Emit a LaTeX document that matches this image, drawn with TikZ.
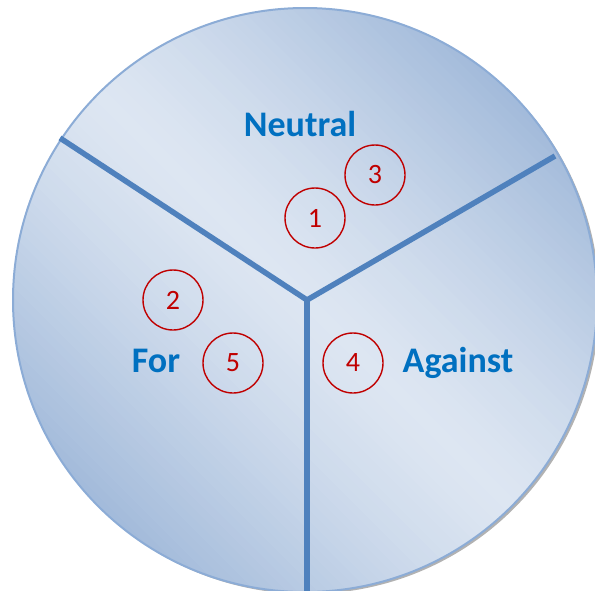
\documentclass[tikz,border=0pt]{standalone}
\usepackage{fontspec}
\setmainfont{Carlito}
\definecolor{discLight}{RGB}{221,230,242}
\definecolor{discDark}{RGB}{162,186,218}
\definecolor{discEdge}{RGB}{140,172,214}
\definecolor{divBlue}{RGB}{79,129,189}
\definecolor{labBlue}{RGB}{0,112,192}
\definecolor{numRed}{RGB}{192,0,0}
\tikzset{
  divider/.style={draw=divBlue, line width=5.5pt, line join=miter},
  numcirc/.style={circle, draw=numRed, line width=1.4pt, minimum size=60pt, inner sep=0pt,
    text=numRed, font=\fontsize{28}{30}\selectfont},
  lab/.style={text=labBlue, font=\fontsize{36}{40}\selectfont\bfseries, inner sep=0pt, anchor=base}
}
\begin{document}
\begin{tikzpicture}[x=1pt,y=-1pt]
\useasboundingbox (0,0) rectangle (595,590);
\fill[gray!60] (307.5,302) circle (292);
\begin{scope}
  \clip (305,300) circle (292);
  \begin{scope}[rotate around={45:(305,300)}]
    \foreach \i in {0,...,79} {
      \pgfmathsetmacro{\xa}{13+\i*7.3}
      \pgfmathsetmacro{\xb}{\xa+8.1}
      \pgfmathtruncatemacro{\mixp}{100*(abs(\i+0.5-40)/40)^1.3}
      \fill[discDark!\mixp!discLight] (\xa,0) rectangle (\xb,600);
    }
  \end{scope}
\end{scope}
\draw[discEdge, line width=2pt] (305,300) circle (292);
\coordinate (c) at (307,300);
\coordinate (l) at (60,138);
\coordinate (r) at (555,156);
\coordinate (b) at (307,592);
\draw[divider] (l) -- (c) -- (r);
\draw[divider] (c) -- (b);
\node[lab] (neutral) at (300,136) {Neutral};
\node[lab] (for) at (156,372) {For};
\node[lab] (against) at (458,372) {Against};
\node[numcirc] (n1) at (315,218) {1};
\node[numcirc] (n3) at (375,175) {3};
\node[numcirc] (n2) at (173,300) {2};
\node[numcirc] (n5) at (233,363) {5};
\node[numcirc] (n4) at (353,363) {4};
\end{tikzpicture}
\end{document}
